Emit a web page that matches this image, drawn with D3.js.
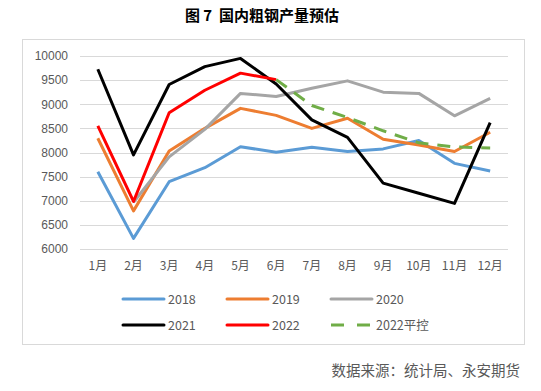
<!DOCTYPE html>
<html><head><meta charset="utf-8">
<script src="https://cdn.jsdelivr.net/npm/d3@7"></script>
<style>body{margin:0;background:#fff;} svg{display:block;}</style>
</head><body>
<svg id="c" width="541" height="391"></svg>
<script>
const months = ["1月","2月","3月","4月","5月","6月","7月","8月","9月","10月","11月","12月"];
const yTicks = [6000,6500,7000,7500,8000,8500,9000,9500,10000];
const s2018 = [7600,6220,7395,7685,8120,8005,8110,8020,8075,8250,7775,7615];
const s2019 = [8295,6790,8030,8500,8915,8770,8500,8710,8275,8155,8020,8420];
const s2020 = [null,6970,7910,8480,9225,9160,9330,9485,9250,9225,8760,9120];
const s2021 = [9725,7950,9410,9780,9950,9420,8675,8315,7365,7155,6945,8620];
const s2022 = [8550,6985,8825,9290,9645,9510,null,null,null,null,null,null];
const s2022p = [null,null,null,null,null,9510,8975,8725,8450,8200,8115,8095];

const seriesNames = ["2018","2019","2020","2021","2022","2022平控"];
const seriesData = [s2018,s2019,s2020,s2021,s2022,s2022p];
const colors = ["#5b9bd5","#ed7d31","#a5a5a5","#000000","#ff0000","#70ad47"];

const svg = d3.select("#c");
const font = "'Liberation Sans', 'Noto Sans CJK SC', sans-serif";

// title
svg.append("text").attr("x",262).attr("y",21).attr("text-anchor","middle")
  .attr("font-family","'Noto Sans CJK SC', sans-serif").attr("font-weight","bold")
  .attr("font-size",15).attr("fill","#000").style("white-space","pre")
  .text("图 7  国内粗钢产量预估");

// chart border
svg.append("rect").attr("x",22.5).attr("y",39.5).attr("width",502).attr("height",305)
  .attr("fill","none").attr("stroke","#d9d9d9").attr("stroke-width",1);

const x = d3.scaleBand().domain(months).range([80,508]);
const y = d3.scaleLinear().domain([6000,10000]).range([249,56]);

// grid
svg.append("g").selectAll("line").data(yTicks).join("line")
  .attr("x1",80).attr("x2",508)
  .attr("y1",d=>Math.round(y(d))+0.5).attr("y2",d=>Math.round(y(d))+0.5)
  .attr("stroke","#d9d9d9").attr("stroke-width",1);

// y axis labels
const yAxis = d3.axisLeft(y).tickValues(yTicks).tickFormat(d3.format("d")).tickSize(0).tickPadding(0);
const gy = svg.append("g").attr("transform","translate(68,0)").call(yAxis);
gy.select(".domain").remove();
gy.selectAll("text").attr("font-family",font).attr("font-size",12).attr("fill","#595959");

// x axis labels
const xAxis = d3.axisBottom(x).tickSize(0).tickPadding(0);
const gx = svg.append("g").attr("transform","translate(0,261)").call(xAxis);
gx.select(".domain").remove();
gx.selectAll("text").attr("font-family","'Noto Sans CJK SC', sans-serif").attr("font-size",12).attr("fill","#595959");

const cx = m => x(m) + x.bandwidth()/2;
const line = d3.line().defined(d=>d.v!=null).x(d=>cx(d.m)).y(d=>y(d.v));

seriesData.forEach((arr,i)=>{
  const pts = arr.map((v,j)=>({m:months[j],v}));
  const p = svg.append("path").datum(pts).attr("d",line)
    .attr("fill","none").attr("stroke",colors[i]).attr("stroke-width",3)
    .attr("stroke-linejoin","round");
  if(i===5) p.attr("stroke-dasharray","13,9");
});

// legend
const legPos = [[123,299],[227,299],[331,299],[123,325],[227,325],[331,325]];
seriesNames.forEach((n,i)=>{
  const [lx,ly] = legPos[i];
  const l = svg.append("line").attr("x1",lx).attr("x2",lx+41).attr("y1",ly).attr("y2",ly)
    .attr("stroke",colors[i]).attr("stroke-width",3).attr("stroke-linecap","round");
  if(i===5) l.attr("stroke-dasharray","13,13").attr("stroke-linecap","butt");
  svg.append("text").attr("x",lx+45).attr("y",ly+4.5).attr("font-family","'Noto Sans CJK SC', sans-serif")
    .attr("font-size",12.5).attr("fill","#595959").text(n);
});

// source
svg.append("text").attr("x",520).attr("y",376).attr("text-anchor","end")
  .attr("font-family","'Noto Sans CJK SC', sans-serif").attr("font-size",14.5)
  .attr("fill","#595959").text("数据来源：统计局、永安期货");
</script>
</body></html>
